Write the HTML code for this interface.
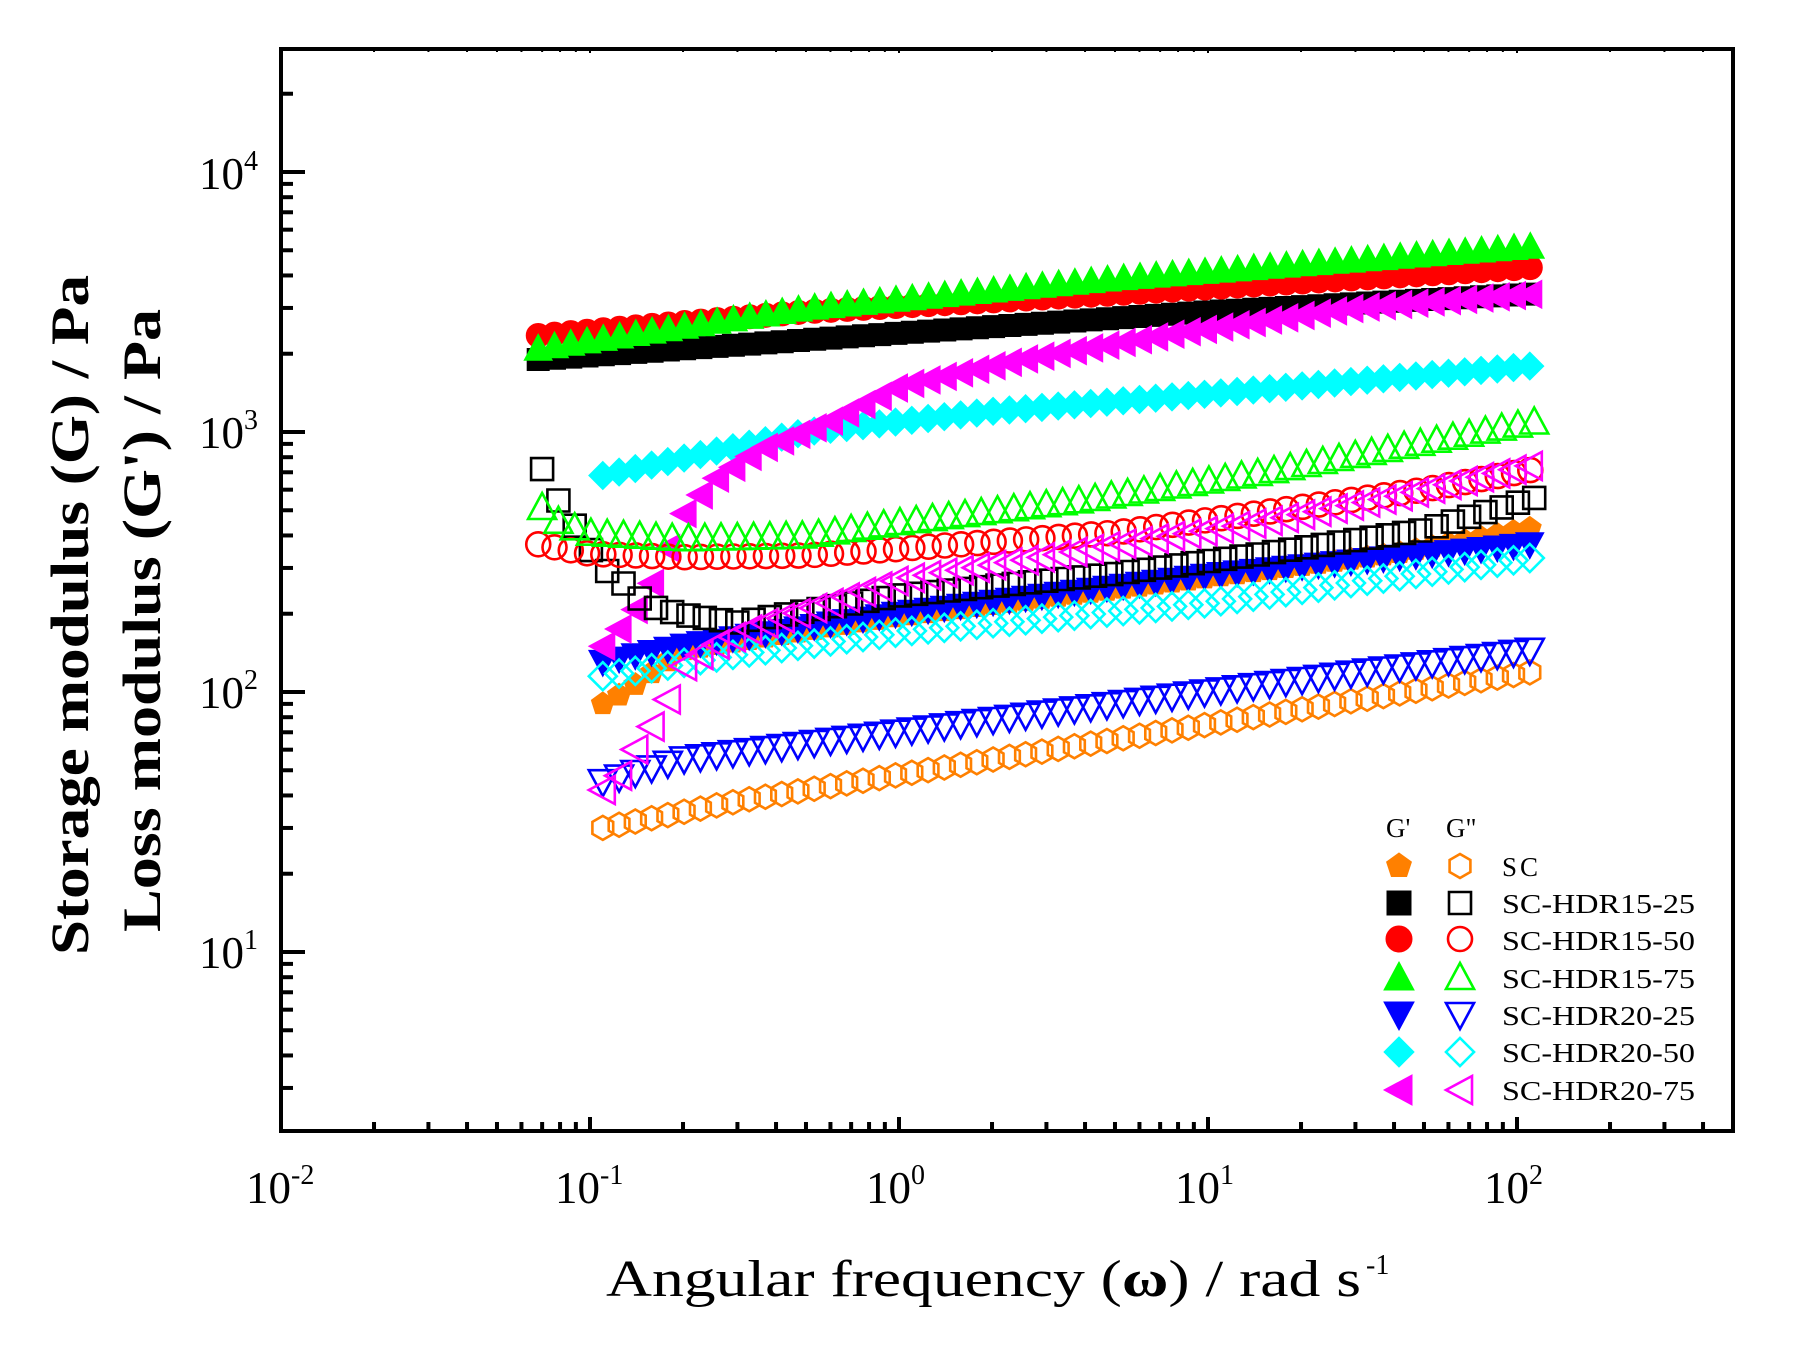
<!DOCTYPE html>
<html><head><meta charset="utf-8"><style>
html,body{margin:0;padding:0;background:#fff;}
svg{display:block;}
text{font-family:"Liberation Serif",serif;fill:#000;}
</style></head><body>
<svg id="s" width="1794" height="1349" viewBox="0 0 1794 1349" xmlns="http://www.w3.org/2000/svg">
<rect width="1794" height="1349" fill="#fff"/>
<g id="data"></g>
<rect x="281" y="49" width="1452" height="1082" fill="none" stroke="#000" stroke-width="4"/>
<g id="ticks" stroke="#000" stroke-width="4"></g>
<g font-size="45">
<text x="258" y="189" text-anchor="end">10<tspan dy="-19" font-size="28">4</tspan></text>
<text x="258" y="448" text-anchor="end">10<tspan dy="-19" font-size="28">3</tspan></text>
<text x="258" y="708" text-anchor="end">10<tspan dy="-19" font-size="28">2</tspan></text>
<text x="258" y="968" text-anchor="end">10<tspan dy="-19" font-size="28">1</tspan></text>
<text x="246" y="1203">10<tspan dy="-19" font-size="28">-2</tspan></text>
<text x="555" y="1203">10<tspan dy="-19" font-size="28">-1</tspan></text>
<text x="866" y="1203">10<tspan dy="-19" font-size="28">0</tspan></text>
<text x="1175" y="1203">10<tspan dy="-19" font-size="28">1</tspan></text>
<text x="1484" y="1203">10<tspan dy="-19" font-size="28">2</tspan></text>
</g>
<text x="606" y="1296" font-size="52" textLength="755" lengthAdjust="spacingAndGlyphs">Angular frequency (<tspan font-weight="bold">ω</tspan>) / rad s</text>
<text x="1366" y="1274" font-size="28">-1</text>
<text transform="translate(88,955) rotate(-90)" font-size="54" font-weight="bold" textLength="680" lengthAdjust="spacingAndGlyphs">Storage modulus (G) / Pa</text>
<text transform="translate(160,932) rotate(-90)" font-size="54" font-weight="bold" textLength="623" lengthAdjust="spacingAndGlyphs">Loss modulus (G') / Pa</text>
<g id="legend"></g>
<g font-size="27">
<text x="1386" y="837">G'</text>
<text x="1446" y="837">G"</text>
<text x="1502" y="876" textLength="36" lengthAdjust="spacing">SC</text>
<text x="1502" y="913" textLength="193" lengthAdjust="spacingAndGlyphs">SC-HDR15-25</text>
<text x="1502" y="950" textLength="193" lengthAdjust="spacingAndGlyphs">SC-HDR15-50</text>
<text x="1502" y="988" textLength="193" lengthAdjust="spacingAndGlyphs">SC-HDR15-75</text>
<text x="1502" y="1025" textLength="193" lengthAdjust="spacingAndGlyphs">SC-HDR20-25</text>
<text x="1502" y="1062" textLength="193" lengthAdjust="spacingAndGlyphs">SC-HDR20-50</text>
<text x="1502" y="1100" textLength="193" lengthAdjust="spacingAndGlyphs">SC-HDR20-75</text>
</g>
</svg>
<script>
var NS="http://www.w3.org/2000/svg";
function X(f){return 281+(Math.log10(f)+2)*309;}
function Y(v){return 172+(4-Math.log10(v))*260;}
function el(p,tag,a){var e=document.createElementNS(NS,tag);for(var k in a)e.setAttribute(k,a[k]);p.appendChild(e);return e;}
var T=document.getElementById('ticks');
for(var d=-2;d<=2;d++){for(var m=1;m<10;m++){var f=m*Math.pow(10,d);var x=X(f);if(x>1731)continue;var L=m==1?14:9;
 if(x>283)el(T,'line',{x1:x,y1:1131,x2:x,y2:1131-L});
 el(T,'line',{x1:x,y1:49,x2:x,y2:49+(m==1?4:3),'stroke-width':2});}}
for(var d=0;d<=4;d++){for(var m=1;m<10;m++){var v=m*Math.pow(10,d);var y=Y(v);if(y<51||y>1129)continue;
 el(T,'line',{x1:281,y1:y,x2:281+(m==1?24:12),y2:y});}}
function shape(p,type,cx,cy,color,filled,s){
 s=s||12;var a={fill:filled?color:'#fff',stroke:color,'stroke-width':filled?1:2.6};
 if(!filled){a['fill']='none';}
 function poly(pts){a.points=pts.map(function(q){return (cx+q[0]).toFixed(1)+','+(cy+q[1]).toFixed(1)}).join(' ');el(p,'polygon',a);}
 function reg(n,r,rot){var pts=[];for(var i=0;i<n;i++){var t=rot+i*2*Math.PI/n;pts.push([r*Math.cos(t),r*Math.sin(t)]);}poly(pts);}
 if(type=='pent')reg(5,s,-Math.PI/2);
 else if(type=='hex')reg(6,s,-Math.PI/2);
 else if(type=='sq'){poly([[-s+1,-s+1],[s-1,-s+1],[s-1,s-1],[-s+1,s-1]]);}
 else if(type=='circ'){a.cx=cx;a.cy=cy;a.r=s;el(p,'circle',a);}
 else if(type=='up')poly([[0,-s-2],[s+2,s],[-s-2,s]]);
 else if(type=='down')poly([[0,s+2],[s+2,-s],[-s-2,-s]]);
 else if(type=='dia')poly([[0,-s-2],[s+2,0],[0,s+2],[-s-2,0]]);
 else if(type=='left')poly([[-s-2,0],[s,-s-2],[s,s+2]]);
}
function interp(anch,lf){
 for(var i=0;i<anch.length-1;i++){var a=Math.log10(anch[i][0]),b=Math.log10(anch[i+1][0]);
  if(lf<=b||i==anch.length-2){var t=(lf-a)/(b-a);return Math.pow(10,Math.log10(anch[i][1])+t*(Math.log10(anch[i+1][1])-Math.log10(anch[i][1])));}}
}
var S=[
 ['pent','#ff8000',[[0.11,90],[0.13,100],[0.2,145],[1,195],[10,275],[40,340],[115,430]],[[0.11,30],[0.3,38],[1,48],[10,75],[115,120]],0.11,'hex'],
 ['sq','#000',[[0.068,1900],[1,2400],[10,2900],[115,3400]],[[0.07,720],[0.08,530],[0.11,300],[0.125,270],[0.14,235],[0.16,212],[0.2,198],[0.3,185],[1,235],[5,285],[15,340],[50,420],[115,560]],0.068,'sq'],
 ['circ','#ff0000',[[0.068,2350],[0.5,2900],[5,3400],[115,4300]],[[0.068,370],[0.1,340],[0.2,330],[0.5,335],[1,355],[5,410],[15,490],[50,600],[115,720]],0.068,'circ'],
 ['up','#00ff00',[[0.068,2100],[0.5,3000],[5,3900],[115,5200]],[[0.068,530],[0.08,450],[0.1,410],[0.2,390],[0.5,400],[1,450],[4,550],[15,700],[115,1100]],0.068,'up'],
 ['down','#0000ff',[[0.11,130],[0.2,150],[1,200],[10,280],[115,370]],[[0.11,45],[0.2,55],[1,70],[10,100],[115,145]],0.11,'down'],
 ['dia','#00ffff',[[0.11,680],[0.5,1000],[2,1200],[10,1400],[115,1800]],[[0.11,115],[0.3,140],[1,170],[10,220],[115,330]],0.11,'dia'],
 ['left','#ff00ff',[[0.11,150],[0.13,185],[0.15,230],[0.165,290],[0.2,480],[0.25,650],[0.35,850],[0.6,1100],[1,1500],[2.5,1900],[8,2400],[30,3000],[115,3400]],[[0.11,42],[0.13,50],[0.14,60],[0.16,75],[0.18,95],[0.2,125],[0.25,150],[0.35,180],[0.6,220],[1,270],[2.5,320],[6,380],[15,450],[40,560],[115,750]],0.11,'left']
];
var D=document.getElementById('data');
var step=1/19;
S.forEach(function(s){var lf0=Math.log10(s[4]);for(var lf=lf0;lf<=Math.log10(116);lf+=step){var f=Math.pow(10,lf);shape(D,s[0],X(f),Y(interp(s[2],lf)),s[1],true);}});
S.forEach(function(s){var lf0=Math.log10(s[4]);if(s[5]=='sq'||s[5]=='up')lf0=Math.log10(0.07);for(var lf=lf0;lf<=Math.log10(116);lf+=step){var f=Math.pow(10,lf);shape(D,s[5],X(f),Y(interp(s[3],lf)),s[1],false);}});
var Lg=document.getElementById('legend');var ys=[866,903,939,977,1015,1052,1090];
S.forEach(function(s,i){shape(Lg,s[0],1399,ys[i],s[1],true,13);shape(Lg,s[5],1460,ys[i],s[1],false,12);});
</script>
</body></html>
